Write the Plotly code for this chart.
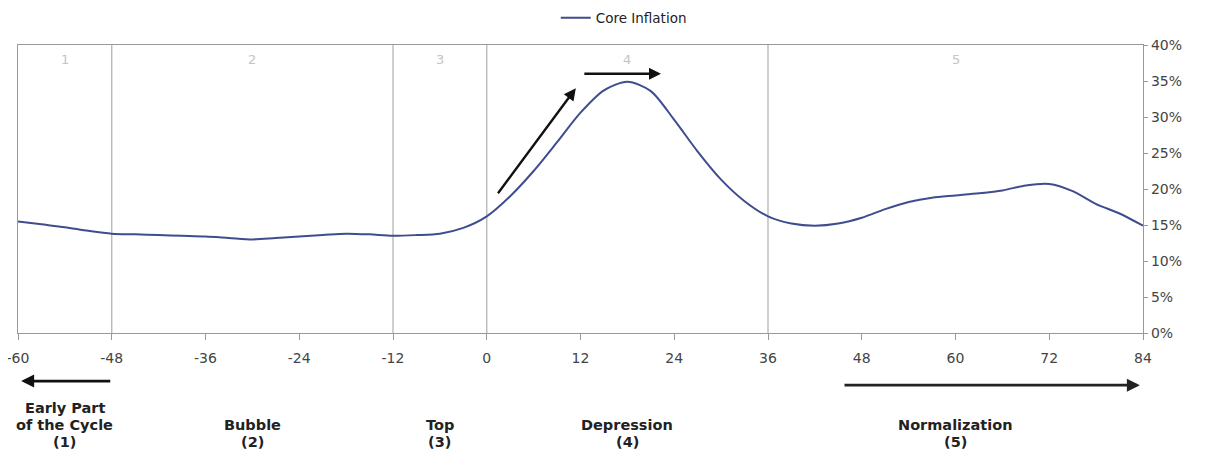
import plotly.graph_objects as go

months = [-60, -57, -54, -51, -48, -45, -42, -39, -36, -33, -30, -27, -24, -21, -18, -15,
          -12, -9, -6, -3, 0, 3, 6, 9, 12, 15, 18, 21, 24, 27, 30, 33, 36, 39, 42, 45,
          48, 51, 54, 57, 60, 63, 66, 69, 72, 75, 78, 81, 84]
core_inflation = [15.5, 15.1, 14.7, 14.2, 13.8, 13.7, 13.6, 13.5, 13.4, 13.2, 13.0, 13.2,
                  13.4, 13.6, 13.8, 13.7, 13.5, 13.6, 13.8, 14.6, 16.2, 19.0, 22.5, 26.5,
                  30.6, 33.7, 34.9, 33.6, 29.6, 25.2, 21.3, 18.3, 16.2, 15.2, 14.9, 15.2,
                  16.0, 17.2, 18.2, 18.8, 19.1, 19.4, 19.8, 20.5, 20.7, 19.7, 17.9, 16.6, 14.9]

x_ticks = [-60, -48, -36, -24, -12, 0, 12, 24, 36, 48, 60, 72, 84]
y_ticks = [0, 5, 10, 15, 20, 25, 30, 35, 40]
y_tick_labels = [f"{v}%" for v in y_ticks]

phase_bounds = [-48, -12, 0, 36]
phase_mids = [-54, -30, -6, 18, 60]
phase_numbers = ["1", "2", "3", "4", "5"]
phase_labels = ["Early Part<br>of the Cycle<br>(1)", "Bubble<br>(2)", "Top<br>(3)",
                "Depression<br>(4)", "Normalization<br>(5)"]

FONT = "DejaVu Sans"
LINE = "#3f4d8f"
GRID = "#b5b5b5"

fig = go.Figure()
fig.add_trace(go.Scatter(
    x=months, y=core_inflation, mode="lines", name="Core Inflation",
    line=dict(color=LINE, width=2, shape="spline", smoothing=0.8),
))

shapes = []
for b in phase_bounds:
    shapes.append(dict(type="line", xref="x", yref="y", x0=b, x1=b, y0=0, y1=40,
                       line=dict(color=GRID, width=1.3), layer="below"))
fig.update_layout(shapes=shapes)

annotations = []
for m, n in zip(phase_mids, phase_numbers):
    annotations.append(dict(x=m, y=38.0, xref="x", yref="y", text=n, showarrow=False,
                            font=dict(family=FONT, size=13, color="#c4c4c4")))
for m, t in zip(phase_mids, phase_labels):
    lines = t.split("<br>")
    for j, ln in enumerate(lines):
        # last line always at 109 px below the axis, lines 17 px apart
        shift = -109 + 17 * (len(lines) - 1 - j)
        annotations.append(dict(x=m, y=0, xref="x", yref="paper", text=f"<b>{ln}</b>",
                                showarrow=False, yanchor="middle", align="center",
                                yshift=shift,
                                font=dict(family=FONT, size=14.5, color="#222222")))
# arrows inside the plot
annotations.append(dict(x=11.4, y=34.0, ax=1.3, ay=19.2, xref="x", yref="y",
                        axref="x", ayref="y", text="", showarrow=True,
                        arrowhead=2, arrowsize=1, arrowwidth=2.4, arrowcolor="#111111"))
annotations.append(dict(x=22.3, y=36.0, ax=12.3, ay=36.0, xref="x", yref="y",
                        axref="x", ayref="y", text="", showarrow=True,
                        arrowhead=2, arrowsize=1, arrowwidth=2.4, arrowcolor="#111111"))
# arrows below the axis
annotations.append(dict(x=-59.6, y=-0.167, ax=-48, ay=0, xref="x", yref="paper",
                        axref="x", text="", showarrow=True,
                        arrowhead=2, arrowsize=1, arrowwidth=2.6, arrowcolor="#111111"))
annotations.append(dict(x=83.6, y=-0.181, ax=45.6, ay=0, xref="x", yref="paper",
                        axref="x", text="", showarrow=True,
                        arrowhead=2, arrowsize=1, arrowwidth=2.6, arrowcolor="#222222"))

fig.update_layout(
    annotations=annotations,
    width=1211, height=468,
    margin=dict(l=10, r=76, t=37, b=143, autoexpand=False),
    paper_bgcolor="white", plot_bgcolor="white",
    font=dict(family=FONT, size=14, color="#333333"),
    showlegend=True,
    legend=dict(orientation="h", x=0.478, xanchor="left", y=1.094, yanchor="middle",
                font=dict(family=FONT, size=13.5, color="#222222"),
                bgcolor="rgba(0,0,0,0)"),
    xaxis=dict(range=[-60, 84], tickvals=x_ticks, ticktext=[str(v) for v in x_ticks],
               showgrid=False, zeroline=False, showline=True, linecolor="#999999",
               linewidth=1.3, mirror=True, ticks="outside", ticklen=6, tickcolor="#999999",
               automargin=False, ticklabelstandoff=6, ticklabeloverflow="allow",
               tickfont=dict(family=FONT, size=14, color="#444444")),
    yaxis=dict(range=[0, 40], tickvals=y_ticks, ticktext=y_tick_labels, side="right",
               showgrid=False, zeroline=False, showline=True, linecolor="#999999",
               linewidth=1.3, mirror=True, ticks="outside", ticklen=4, tickcolor="#999999",
               automargin=False, ticklabeloverflow="allow",
               tickfont=dict(family=FONT, size=14, color="#444444")),
)

fig.write_html("out.html")
